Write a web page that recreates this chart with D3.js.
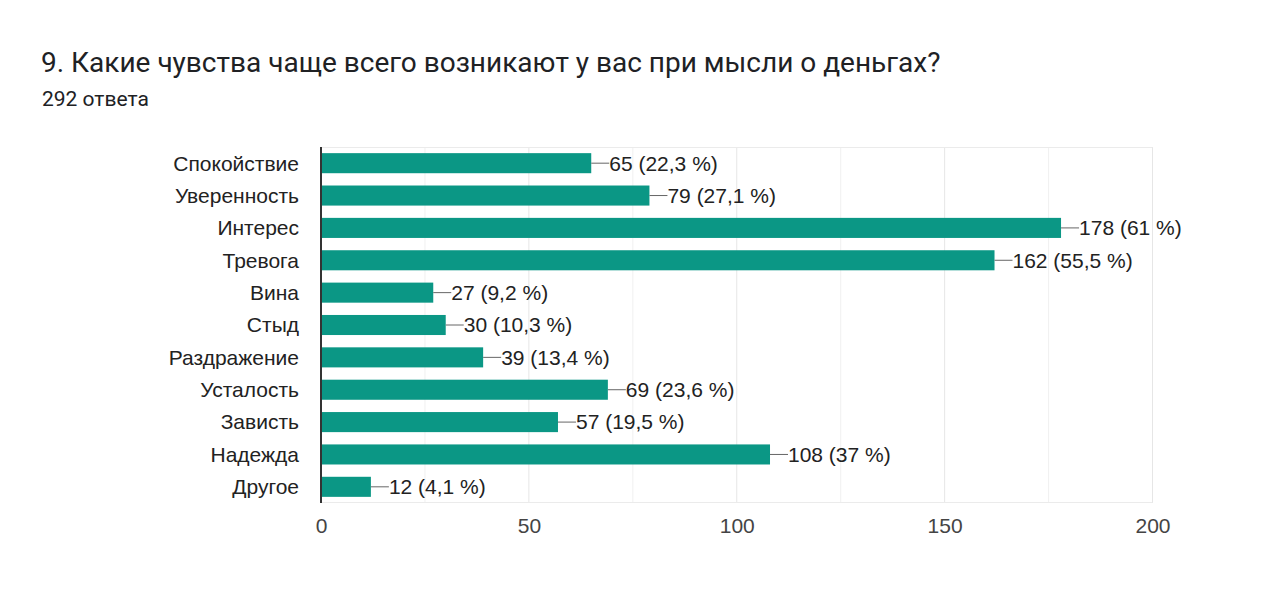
<!DOCTYPE html>
<html>
<head>
<meta charset="utf-8">
<script src="https://cdn.jsdelivr.net/npm/d3@7"></script>
<style>
  body { margin: 0; background: #fff; }
</style>
</head>
<body>
<div id="chart"></div>
<script>
// data
let categories = ["Спокойствие", "Уверенность", "Интерес", "Тревога", "Вина", "Стыд",
                  "Раздражение", "Усталость", "Зависть", "Надежда", "Другое"];
let counts = [65, 79, 178, 162, 27, 30, 39, 69, 57, 108, 12];
let percents = ["22,3", "27,1", "61", "55,5", "9,2", "10,3", "13,4", "23,6", "19,5", "37", "4,1"];
let tickValues = [0, 50, 100, 150, 200];
let gridValues = [25, 50, 75, 100, 125, 150, 175, 200];

let titleText = "9. Какие чувства чаще всего возникают у вас при мысли о деньгах?";
let subtitleText = "292 ответа";

let w = 1280, h = 609;
let margin = {top: 147, right: 128, bottom: 106, left: 321};
let barColor = "#0b9785";
let labelFont = "21px 'Liberation Sans', Arial, sans-serif";

let svg = d3.select("#chart").append("svg")
    .attr("width", w)
    .attr("height", h);

// title
svg.append("text")
    .attr("x", 41).attr("y", 72)
    .style("font", "28px Roboto, sans-serif")
    .style("fill", "#202124")
    .text(titleText);

svg.append("text")
    .attr("x", 42).attr("y", 106)
    .style("font", "21px Roboto, sans-serif")
    .style("fill", "#202124")
    .text(subtitleText);

let x = d3.scaleLinear()
    .domain([0, 200])
    .range([margin.left, w - margin.right + 0.5]);

let y = d3.scaleBand()
    .domain(categories)
    .range([margin.top, h - margin.bottom])
    .paddingInner(0.38)
    .paddingOuter(0.19);

let rows = categories.map(function(c, i) {
    return {name: c, value: counts[i], pct: percents[i]};
});

// grid
svg.append("g").selectAll("line")
    .data(gridValues)
    .enter().append("line")
    .attr("x1", d => x(d)).attr("x2", d => x(d))
    .attr("y1", margin.top).attr("y2", h - margin.bottom)
    .style("stroke", d => d % 50 == 0 ? "#e6e6e6" : "#f0f0f0")
    .style("stroke-width", 1);

svg.append("line")
    .attr("x1", margin.left).attr("x2", x(200))
    .attr("y1", margin.top + 0.5).attr("y2", margin.top + 0.5)
    .style("stroke", "#ebebeb");
svg.append("line")
    .attr("x1", margin.left).attr("x2", x(200))
    .attr("y1", h - margin.bottom - 0.5).attr("y2", h - margin.bottom - 0.5)
    .style("stroke", "#ebebeb");

// bars
svg.append("g").selectAll("rect")
    .data(rows)
    .enter().append("rect")
    .attr("x", x(0))
    .attr("y", d => y(d.name))
    .attr("width", d => x(d.value) - x(0))
    .attr("height", y.bandwidth())
    .style("fill", barColor);

// connector lines + value labels
let lab = svg.append("g").selectAll("g")
    .data(rows)
    .enter().append("g");

lab.append("line")
    .attr("x1", d => x(d.value))
    .attr("x2", d => x(d.value) + 18)
    .attr("y1", d => y(d.name) + y.bandwidth() / 2)
    .attr("y2", d => y(d.name) + y.bandwidth() / 2)
    .style("stroke", "#666")
    .style("stroke-width", 1);

lab.append("text")
    .attr("x", d => x(d.value) + 18)
    .attr("y", d => y(d.name) + y.bandwidth() / 2)
    .attr("dy", "0.35em")
    .style("font", labelFont)
    .style("fill", "#222")
    .text(d => d.value + " (" + d.pct + " %)");

// category labels
svg.append("g").selectAll("text")
    .data(rows)
    .enter().append("text")
    .attr("x", 299)
    .attr("y", d => y(d.name) + y.bandwidth() / 2)
    .attr("dy", "0.35em")
    .attr("text-anchor", "end")
    .style("font", labelFont)
    .style("fill", "#222")
    .text(d => d.name);

// zero axis line
svg.append("line")
    .attr("x1", x(0)).attr("x2", x(0))
    .attr("y1", margin.top).attr("y2", h - margin.bottom)
    .style("stroke", "#333")
    .style("stroke-width", 2);

// x tick labels
let xAxis = d3.axisBottom(x).tickValues(tickValues).tickSize(0).tickPadding(0);
let ax = svg.append("g")
    .attr("transform", "translate(0," + (h - margin.bottom + 15) + ")")
    .call(xAxis);
ax.select(".domain").remove();
ax.selectAll("text")
    .style("font", labelFont)
    .style("fill", "#444");
</script>
</body>
</html>
